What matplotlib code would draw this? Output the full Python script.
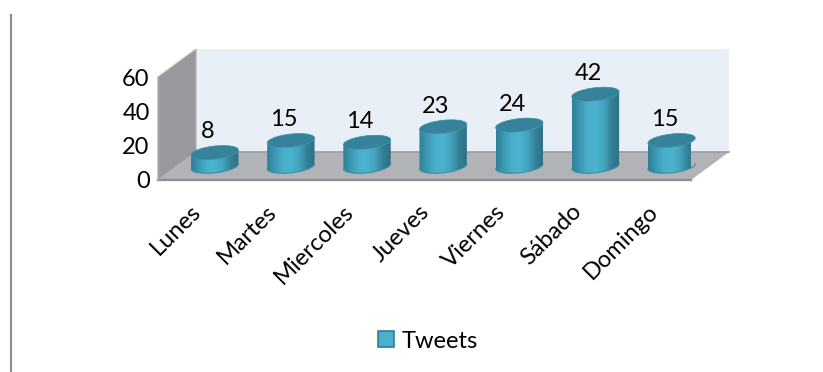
import numpy as np
from matplotlib import pyplot as plt
from matplotlib.colors import LinearSegmentedColormap
from matplotlib.lines import Line2D
from matplotlib.patches import Patch, Polygon
from matplotlib.transforms import ScaledTranslation

days = ['Lunes', 'Martes', 'Miercoles', 'Jueves', 'Viernes', 'Sábado', 'Domingo']
tweets = [8, 15, 14, 23, 24, 42, 15]
y_ticks = [0, 20, 40, 60]
series_name = 'Tweets'

# depth of the 3D box and size of each cylinder, in axis units
depth_x = 0.5
depth_y = 16.3
half_width = 0.311
cap_height = 3.8
cap_tilt = 1.45
n_cap_points = 120
font_size = 17

plt.rcParams['font.family'] = ['Lato', 'DejaVu Sans']

fig = plt.figure(figsize=(8.23, 3.72), dpi=100)
ax = fig.add_axes([158 / 823, (372 - 180) / 372, 533 / 823, 103 / 372])

n_days = len(days)
y_max = y_ticks[-1]

# back wall, side wall and floor
ax.add_patch(Polygon([(depth_x, depth_y), (n_days + depth_x, depth_y), (n_days + depth_x, y_max + depth_y),
                      (depth_x, y_max + depth_y)], facecolor='#e8eff6', edgecolor='none', clip_on=False, zorder=1))
ax.add_patch(Polygon([(0, 0), (depth_x, depth_y), (depth_x, y_max + depth_y), (0, y_max)],
                     facecolor='#97999c', edgecolor='#b4b6b9', linewidth=0.8, clip_on=False, zorder=2))
ax.add_patch(Polygon([(0, 0), (n_days, 0), (n_days + depth_x, depth_y), (depth_x, depth_y)],
                     facecolor='#b1b3b6', edgecolor='none', clip_on=False, zorder=2))
ax.plot([depth_x, n_days + depth_x], [depth_y, depth_y], color='#9a9c9f', lw=1.2, clip_on=False, zorder=3)
ax.plot([0, n_days], [0, 0], color='#8b8d90', lw=1.6, clip_on=False, zorder=3)
ax.plot([0, 0], [0, y_max], color='#a5a7aa', lw=1.0, clip_on=False, zorder=3)

side_cmap = LinearSegmentedColormap.from_list(
    'cylinder', ['#2f7f97', '#3c98b2', '#49aeca', '#4bb3cf', '#43a3bd', '#347f96', '#2d7086'])
gradient = np.linspace(0, 1, 256).reshape(1, -1)

t = np.linspace(0, 2 * np.pi, n_cap_points)
for i, value in enumerate(tweets):
    cx = i + 0.5 + depth_x * 0.49
    cy = depth_y * 0.49

    ellipse_x = cx + half_width * np.cos(t)
    ellipse_base = cap_height * np.sin(t) + cap_tilt * np.cos(t)

    # body outline: lower half of the base ellipse plus upper half of the top ellipse
    lower = np.sin(t) <= 0
    lower_order = np.argsort(ellipse_x[lower])
    body_x = np.concatenate([ellipse_x[lower][lower_order], ellipse_x[lower][lower_order][::-1]])
    body_y = np.concatenate([cy + ellipse_base[lower][lower_order],
                             (cy + value + ellipse_base[lower][lower_order])[::-1]])
    body = Polygon(np.column_stack([body_x, body_y]), transform=ax.transData, facecolor='none', edgecolor='none')
    ax.add_patch(body)

    image = ax.imshow(gradient, cmap=side_cmap, aspect='auto', zorder=4,
                      extent=[cx - half_width, cx + half_width, cy - cap_height - 2, cy + value + cap_height + 2])
    image.set_clip_path(body)

    # darker rim along the bottom edge
    ax.plot(ellipse_x[lower][lower_order], cy + ellipse_base[lower][lower_order], color='#3a8ea8', lw=0.8,
            clip_on=False, zorder=5)

    ax.add_patch(Polygon(np.column_stack([ellipse_x, cy + value + ellipse_base]), facecolor='#35829a',
                         edgecolor='#3a8ea8', linewidth=0.5, clip_on=False, zorder=6))

    ax.text(i + 0.5 + depth_x * 0.3, value + 20.0, str(value), ha='center', va='center', fontsize=font_size,
            color='black', zorder=7)

ax.set_xlim(0, n_days)
ax.set_ylim(0, y_max)
ax.patch.set_alpha(0)
for spine in ax.spines.values():
    spine.set_visible(False)

ax.set_yticks(y_ticks)
ax.set_yticklabels([str(v) for v in y_ticks], fontsize=font_size)
ax.set_xticks([i + 0.5 for i in range(n_days)])
ax.set_xticklabels(days, fontsize=font_size, rotation=45, ha='right', rotation_mode='anchor')
ax.tick_params(axis='both', length=0)
ax.tick_params(axis='y', pad=6)
ax.tick_params(axis='x', pad=15)

# nudge the slanted labels left so they end under the cylinders' front edge
label_shift = ScaledTranslation(-6 / 100, 0, fig.dpi_scale_trans)
for label in ax.get_xticklabels():
    label.set_transform(label.get_transform() + label_shift)

legend_handle = Patch(facecolor='#4bb0cc', edgecolor='#2f7f97', linewidth=1.2, label=series_name)
fig.legend(handles=[legend_handle], loc='center', bbox_to_anchor=(428 / 823, 1 - 341 / 372), frameon=False,
           fontsize=font_size, handlelength=0.68, handleheight=0.68, handletextpad=0.35)

# vertical rule at the left edge of the frame
fig.add_artist(Line2D([11 / 823, 11 / 823], [0, 1 - 15 / 372], color='#8c8c8c', lw=1.5))

fig.savefig('out.png', dpi=100)
plt.close(fig)
